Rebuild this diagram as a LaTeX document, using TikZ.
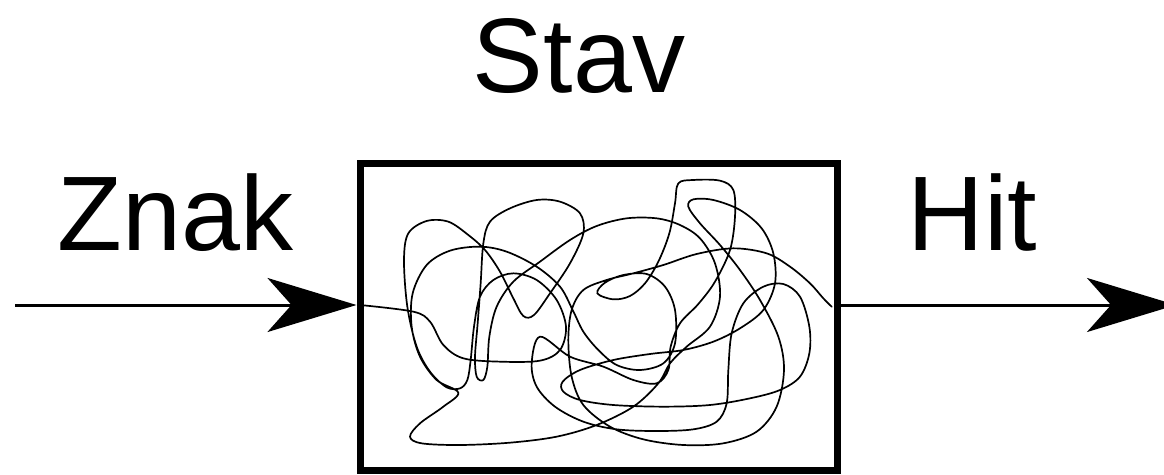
\documentclass[tikz,border=0pt]{standalone}
\usepackage{fontspec}
\setmainfont{Liberation Sans}
\usetikzlibrary{arrows.meta}
\tikzset{
  lbl/.style={inner sep=0pt, anchor=base, font=\fontsize{106}{120}\selectfont},
  stavbox/.style={draw, line width=7pt, minimum width=477pt, minimum height=307pt, inner sep=0pt},
  arr/.style={line width=3pt, -{Stealth[length=89pt,width=54pt,inset=24pt]}},
  scribble/.style={line width=1.7pt, line join=round, line cap=round}
}
\begin{document}
\begin{tikzpicture}[x=1pt,y=-1pt]
\useasboundingbox (0,0) rectangle (1164,474);
\clip (0,0) rectangle (1164,474);
\node[lbl] (stav) at (579,92) {Stav};
\node[lbl] (znak) at (175.5,250) {Znak};
\node[lbl] (hit) at (972.5,250) {Hit};
\node[stavbox] (box) at (598.5,316.9) {};
\coordinate (src) at (15,305);
\coordinate (snk) at (1176,305);
\draw[arr] (src) -- (src -| box.west);
\draw[arr] (box.east |- src) -- (snk);
\begin{scope}[shift={(350,150)},scale=0.33333]
\draw[scribble] plot[smooth, tension=0.55] coordinates {
(30,465)(190,485)(240,515)(280,585)(340,625)(450,635)(570,632)(630,600)(648,530)(620,450)(560,390)(490,370)(430,390)(390,440)(372,530)(362,630)(352,690)(330,715)(290,712)(240,665)(200,590)(172,470)(162,330)(175,250)(230,213)(295,215)(355,255)(405,300)(450,365)(490,445)(520,498)(552,495)(600,430)(660,340)(700,250)(690,190)(630,155)(560,150)(480,175)(420,215)(400,280)(392,400)(383,520)(375,620)(380,680)(400,690)(412,650)(418,560)(440,470)(490,395)(570,335)(660,270)(740,228)(830,205)(920,205)(990,225)(1050,265)(1095,340)(1110,440)(1080,530)(1010,590)(960,640)(925,700)(850,770)(740,825)(620,860)(480,878)(330,885)(215,880)(180,860)(210,820)(280,770)(325,728)(260,690)(210,620)(185,530)(188,430)(230,345)(300,302)(390,290)(470,305)(560,350)(630,410)(668,480)(700,545)(745,600)(800,645)(870,660)(940,640)(975,580)(975,480)(945,410)(890,372)(820,375)(765,398)(742,430)(790,448)(840,438)(885,400)(925,335)(958,250)(975,160)(985,100)(1030,90)(1110,92)(1150,120)(1155,200)(1140,300)(1095,395)(1045,462)(990,520)(962,590)(955,660)(920,700)(850,690)(760,650)(660,620)(570,560)(545,640)(560,710)(615,770)(700,815)(800,838)(920,843)(1030,838)(1100,815)(1130,760)(1135,660)(1145,550)(1180,460)(1240,410)(1300,402)(1350,440)(1378,530)(1378,610)(1350,680)(1290,720)(1200,745)(1080,765)(940,770)(790,765)(690,750)(640,725)(638,695)(690,660)(790,630)(900,612)(1000,600)(1090,575)(1170,535)(1240,480)(1275,400)(1270,310)(1235,235)(1170,180)(1090,150)(1030,148)(1015,170)(1050,220)(1110,285)(1170,360)(1230,450)(1285,560)(1302,660)(1280,770)(1220,845)(1120,880)(1000,885)(880,868)(780,830)(700,765)(665,680)(655,570)(665,480)(700,420)(770,390)(850,370)(940,345)(1040,312)(1150,295)(1250,310)(1320,350)(1380,400)(1420,445)(1445,470)
};
\end{scope}
\end{tikzpicture}
\end{document}
